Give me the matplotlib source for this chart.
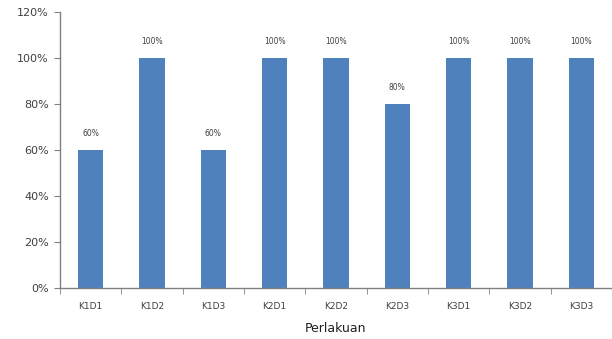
import numpy as np
import matplotlib.pyplot as plt
from matplotlib.ticker import PercentFormatter

# data
categories = ['K1D1', 'K1D2', 'K1D3', 'K2D1', 'K2D2', 'K2D3', 'K3D1', 'K3D2', 'K3D3']
values = [60, 100, 60, 100, 100, 80, 100, 100, 100]

fig = plt.figure(figsize=(6.12, 3.39), dpi=100)
ax = fig.add_axes([0.098, 0.150, 0.902, 0.815])

x = np.arange(len(categories))
bars = ax.bar(x, values, width=0.41, color='#4F81BD')

for xi, v in zip(x, values):
    ax.text(xi, v + 5, f'{v}%', ha='center', va='bottom', fontsize=5.5, color='#404040')

ax.set_xlim(-0.5, len(categories) - 0.5)
ax.set_ylim(0, 120)
ax.set_yticks(np.arange(0, 121, 20))
ax.yaxis.set_major_formatter(PercentFormatter(decimals=0))
ax.set_xticks(x)
ax.set_xticklabels(categories, fontsize=6.5, color='#404040')
ax.set_xticks(np.arange(-0.5, len(categories)), minor=True)
ax.tick_params(axis='x', which='major', length=0, pad=10)
ax.tick_params(axis='x', which='minor', length=4, color='#808080', direction='out')
ax.tick_params(axis='y', labelsize=8, color='#808080', labelcolor='#404040', length=4, pad=4)

for s in ['top', 'right']:
    ax.spines[s].set_visible(False)
for s in ['left', 'bottom']:
    ax.spines[s].set_color('#808080')
    ax.spines[s].set_linewidth(1)

ax.set_xlabel('Perlakuan', fontsize=9, color='#202020', labelpad=8)

fig.savefig('out.png', dpi=100)
